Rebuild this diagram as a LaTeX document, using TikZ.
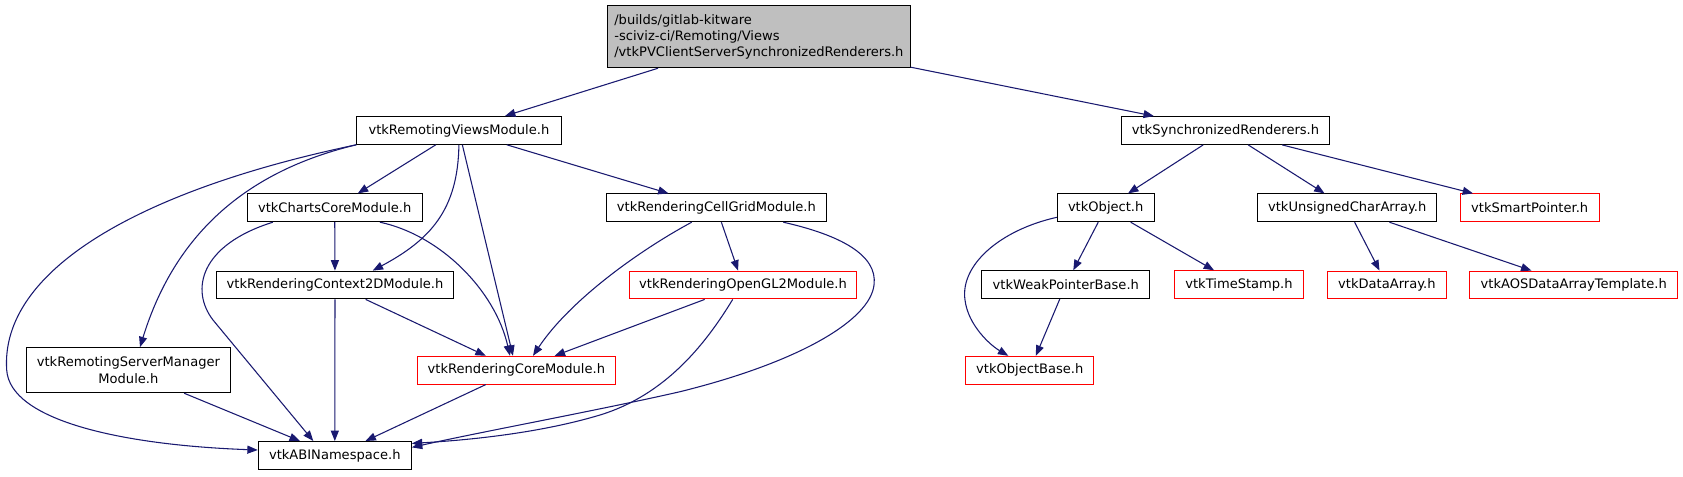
\documentclass[tikz,border=0pt]{standalone}
\usepackage{fontspec}
\setmainfont{DejaVu Sans}
\usetikzlibrary{arrows.meta,calc}
\definecolor{edgeblue}{HTML}{191970}
\definecolor{rootgray}{HTML}{BFBFBF}
\begin{document}
\begin{tikzpicture}[x=0.75pt,y=-0.75pt,
  nd/.style={draw=black, line width=0.8pt, fill=white, inner sep=0pt,
    minimum height=20.8pt, font=\fontsize{9.8}{12.2}\selectfont, text=black, align=center},
  rd/.style={nd, draw=red},
  ed/.style={draw=edgeblue, line width=0.8pt,
    -{Triangle[length=7.8pt,width=6pt]}}]
\useasboundingbox[fill=white] (0,0) rectangle (1683,476);

% nodes
\node[nd, fill=rootgray, minimum width=226.7pt, minimum height=46.5pt, align=left] (root) at (758.9,36.7)
  {/builds/gitlab-kitware\\-sciviz-ci/Remoting/Views\\/vtkPVClientServerSynchronizedRenderers.h};
\node[nd, minimum width=153.2pt] (rvm) at (458.9,130.4) {vtkRemotingViewsModule.h};
\node[nd, minimum width=131pt] (charts) at (334.7,207.8) {vtkChartsCoreModule.h};
\node[nd, minimum width=165.5pt] (cellgrid) at (716.4,207.8) {vtkRenderingCellGridModule.h};
\node[nd, minimum width=178pt] (ctx2d) at (335,285) {vtkRenderingContext2DModule.h};
\node[rd, minimum width=170.6pt] (opengl2) at (743,285) {vtkRenderingOpenGL2Module.h};
\node[nd, minimum width=153.5pt, minimum height=33.75pt] (rsm) at (128.4,370.2) {vtkRemotingServerManager\\Module.h};
\node[rd, minimum width=149pt] (rcore) at (516.4,370.2) {vtkRenderingCoreModule.h};
\node[nd, minimum width=114.75pt] (abi) at (334.8,455.4) {vtkABINamespace.h};

\node[nd, minimum width=155.7pt] (sync) at (1225.5,130.5) {vtkSynchronizedRenderers.h};
\node[nd, minimum width=72.5pt] (obj) at (1105.7,207.8) {vtkObject.h};
\node[nd, minimum width=134.25pt] (uca) at (1347.2,207.8) {vtkUnsignedCharArray.h};
\node[rd, minimum width=104pt] (smart) at (1529.7,207.8) {vtkSmartPointer.h};
\node[nd, minimum width=126.2pt] (weak) at (1065.8,284.7) {vtkWeakPointerBase.h};
\node[rd, minimum width=97pt] (ts) at (1239,284.7) {vtkTimeStamp.h};
\node[rd, minimum width=88.7pt] (da) at (1386.9,285) {vtkDataArray.h};
\node[rd, minimum width=156pt] (aos) at (1573.7,285) {vtkAOSDataArrayTemplate.h};
\node[rd, minimum width=96.2pt] (objbase) at (1029.8,370.2) {vtkObjectBase.h};

% straight edges
\draw[ed] (root) -- (rvm);
\draw[ed] (root) -- (sync);
\draw[ed] (rvm) -- (charts);
\draw[ed] (rvm) -- (cellgrid);
\draw[ed] (rvm) -- (rcore);
\draw[ed] (charts) -- (ctx2d);
\draw[ed] (ctx2d) -- (rcore);
\draw[ed] (ctx2d) -- (abi);
\draw[ed] (cellgrid) -- (opengl2);
\draw[ed] (opengl2) -- (rcore);
\draw[ed] (rcore) -- (abi);
\draw[ed] (rsm) -- (abi);
\draw[ed] (sync) -- (obj);
\draw[ed] (sync) -- (uca);
\draw[ed] (sync) -- (smart);
\draw[ed] (obj) -- (weak);
\draw[ed] (obj) -- (ts);
\draw[ed] (weak) -- (objbase);
\draw[ed] (uca) -- (da);
\draw[ed] (uca) -- (aos);

% curved edges
\draw[ed] (rvm.south) .. controls (458,210) and (430,240) .. ($(ctx2d.north)+(37.7,0)$);
\draw[ed] (rvm.south west) .. controls (230,175) and (170,250) .. ($(rsm.north)+(11.6,0)$);
\draw[ed] (rvm.south west) .. controls (140,190) and (0,270) .. (6.7,370)
  .. controls (10,420) and (120,445) .. ($(abi.west)+(0,-5.4)$);
\draw[ed] ($(charts.south)+(45.3,0)$) .. controls (440,235) and (495,290) .. ($(rcore.north)+(-6.4,0)$);
\draw[ed] ($(charts.south west)+(26,0)$) .. controls (200,245) and (190,290) .. (213,320)
  -- ($(abi.north)+(-21.5,0)$);
\draw[ed] ($(cellgrid.south)+(-24.7,0)$) .. controls (640,250) and (570,300) .. ($(rcore.north)+(16.6,0)$);
\draw[ed] ($(cellgrid.south)+(66.9,0)$) .. controls (840,235) and (878,255) .. (874,285)
  .. controls (870,320) and (800,362) .. (680,391.7)
  .. controls (600,410) and (480,432) .. ($(abi.east)+(0,-8)$);
\draw[ed] ($(opengl2.south)+(-10.3,0)$) .. controls (705,345) and (665,395) .. (600,415)
  .. controls (540,433) and (470,440) .. ($(abi.east)+(0,-12)$);
\draw[ed] ($(obj.west)+(0,9.5)$) .. controls (1000,230) and (960,265) .. (965,300)
  .. controls (968,325) and (990,345) .. ($(objbase.north)+(-21.5,0)$);
\end{tikzpicture}
\end{document}
